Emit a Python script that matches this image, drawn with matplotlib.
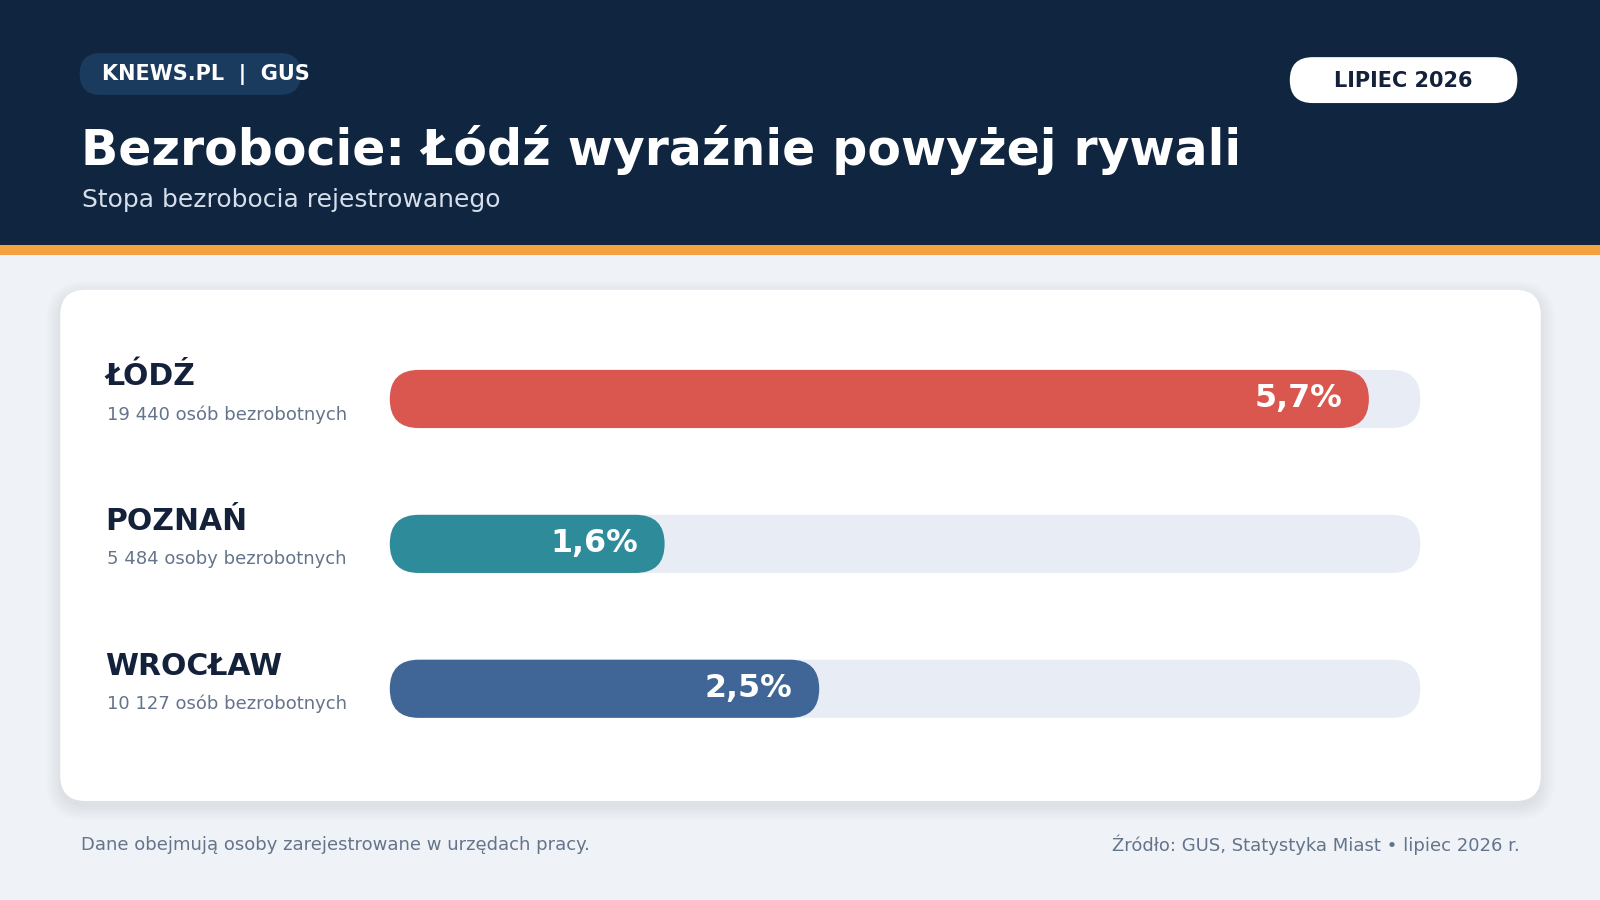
import matplotlib
matplotlib.use('Agg')
import matplotlib.pyplot as plt
from matplotlib.patches import FancyBboxPatch, Rectangle

# %% data
cities = ['ŁÓDŹ', 'POZNAŃ', 'WROCŁAW']
rates = [5.7, 1.6, 2.5]
counts = ['19 440 osób bezrobotnych', '5 484 osoby bezrobotnych', '10 127 osób bezrobotnych']
rate_labels = ['5,7%', '1,6%', '2,5%']
colors = ['#D9574E', '#2E8B9A', '#3F6696']
scale_max = 6.0

title = 'Bezrobocie: Łódź wyraźnie powyżej rywali'
subtitle = 'Stopa bezrobocia rejestrowanego'
brand = 'KNEWS.PL  |  GUS'
period = 'LIPIEC 2026'
note = 'Dane obejmują osoby zarejestrowane w urzędach pracy.'
source = 'Źródło: GUS, Statystyka Miast • lipiec 2026 r.'

NAVY = '#10253F'
INK = '#14213A'
GREY = '#64748B'
TRACK = '#E8EDF5'

plt.rcParams['font.family'] = ['DejaVu Sans']

W, H = 1568, 882
fg = plt.figure(figsize=(16, 9), dpi=100)
ax = fg.add_axes([0, 0, 1, 1])
ax.set_xlim(0, W)
ax.set_ylim(H, 0)
ax.axis('off')


def pill(x, y, w, h, color, r=None, z=2, **kw):
    r = h / 2 if r is None else r
    p = FancyBboxPatch((x, y), w, h, boxstyle=f'round,pad=0,rounding_size={r}',
                       fc=color, ec='none', zorder=z, **kw)
    ax.add_patch(p)
    return p


# %% background + header
ax.add_patch(Rectangle((0, 0), W, H, fc='#EFF3F7', ec='none', zorder=0))
ax.add_patch(Rectangle((0, 0), W, 240, fc=NAVY, ec='none', zorder=1))
ax.add_patch(Rectangle((0, 240), W, 10, fc='#F4A140', ec='none', zorder=1))

pill(78, 52, 217, 41, '#1A3A5E')
ax.text(100, 73, brand, color='white', fontsize=15, fontweight='bold',
        va='center', ha='left', zorder=3)

pill(1264, 56, 223, 45, 'white')
ax.text(1375, 79, period, color=INK, fontsize=15, fontweight='bold',
        va='center', ha='center', zorder=3)

ax.text(79, 162, title, color='white', fontsize=35.2, fontweight='bold',
        va='baseline', ha='left', zorder=3)
ax.text(80, 196, subtitle, color='#D5DEEA', fontsize=18,
        va='center', ha='left', zorder=3)

# %% card with soft shadow
for i in range(6):
    g = 1 + i * 2.5
    pill(59 - g, 284 - g + 5, 1451 + 2 * g, 501 + 2 * g, '#1E2A3C', r=25 + g, z=1, alpha=0.012)
pill(59, 284, 1451, 501, 'white', r=25, z=2)

# %% bars
x0, x1 = 382, 1392
bh = 57
for i, (c, v, n, lab, col) in enumerate(zip(cities, rates, counts, rate_labels, colors)):
    yc = 391 + i * 142
    pill(x0, yc - bh / 2, x1 - x0, bh, TRACK, z=3)
    xe = x0 + (x1 - x0) * v / scale_max
    pill(x0, yc - bh / 2, xe - x0, bh, col, z=4)
    ax.text(xe - 26, yc, lab, color='white', fontsize=22.8, fontweight='bold',
            va='center', ha='right', zorder=5)
    ax.text(103, yc - 22, c, color=INK, fontsize=21.5, fontweight='bold',
            va='center', ha='left', zorder=5)
    ax.text(105, yc + 15, n, color=GREY, fontsize=13,
            va='center', ha='left', zorder=5)

# %% footer
ax.text(79, 828, note, color=GREY, fontsize=13, va='center', ha='left')
ax.text(1489, 828, source, color=GREY, fontsize=13, va='center', ha='right')

fg.savefig('out.png', dpi=100)
